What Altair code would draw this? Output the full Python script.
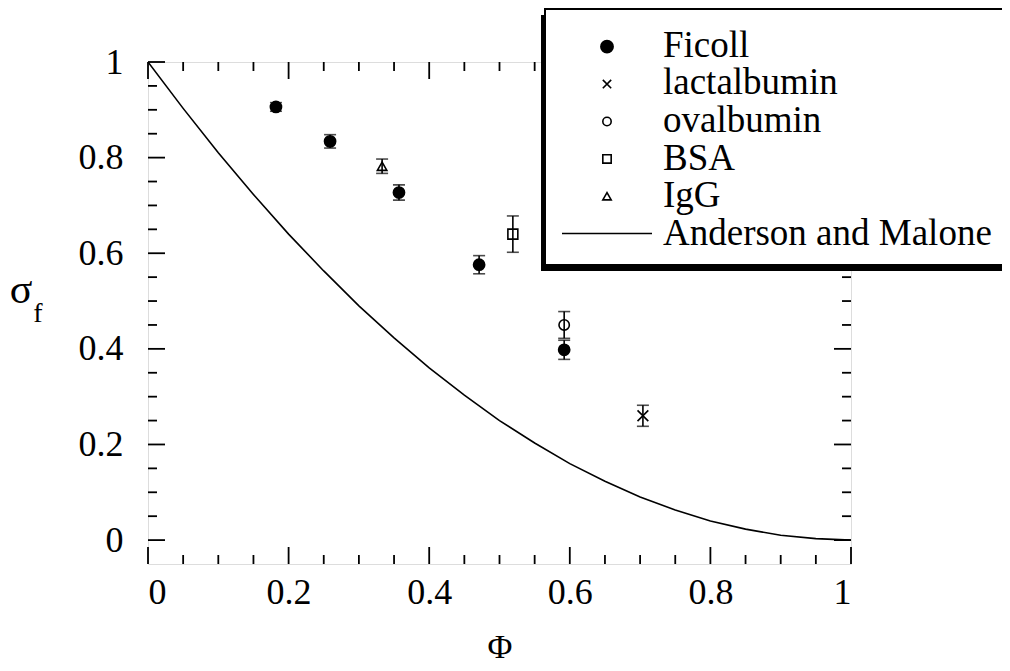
import altair as alt
import pandas as pd

FONT = "Liberation Serif"

# ---------------- data ----------------
ficoll_phi = [0.182, 0.259, 0.357, 0.471, 0.592]
ficoll_sig = [0.906, 0.834, 0.727, 0.576, 0.398]
ficoll_err = [0.009, 0.014, 0.016, 0.019, 0.020]

lact_phi = [0.704]
lact_sig = [0.260]
lact_err = [0.022]

oval_phi = [0.592]
oval_sig = [0.450]
oval_err = [0.028]

bsa_phi = [0.519]
bsa_sig = [0.640]
bsa_err = [0.038]

igg_phi = [0.333]
igg_sig = [0.782]
igg_err = [0.015]

curve_phi = [0.0, 0.05, 0.10, 0.15, 0.20, 0.25, 0.30, 0.35, 0.40, 0.45, 0.50,
             0.55, 0.60, 0.65, 0.70, 0.75, 0.80, 0.85, 0.90, 0.95, 1.0]
curve_sig = [1.0, 0.903, 0.810, 0.723, 0.640, 0.563, 0.490, 0.423, 0.360, 0.303, 0.250,
             0.203, 0.160, 0.123, 0.090, 0.063, 0.040, 0.023, 0.010, 0.003, 0.0]

series_names = ["Ficoll", "lactalbumin", "ovalbumin", "BSA", "IgG"]
legend_labels = ["Ficoll", "lactalbumin", "ovalbumin", "BSA", "IgG", "Anderson and Malone"]

major_ticks = [0.0, 0.2, 0.4, 0.6, 0.8, 1.0]
minor_ticks = [0.05, 0.10, 0.15, 0.25, 0.30, 0.35, 0.45, 0.50, 0.55,
               0.65, 0.70, 0.75, 0.85, 0.90, 0.95]

# ---------------- styling ----------------
W, H = 703, 502
XCROSS = "M-1,-1L1,1M-1,1L1,-1"
shape_range = ["circle", XCROSS, "circle", "square", "triangle-up"]
fill_range = ["black", "transparent", "transparent", "transparent", "transparent"]
size_range = [125, 90, 85, 95, 110]

rows = []
for name, phis, sigs, errs in [
    ("Ficoll", ficoll_phi, ficoll_sig, ficoll_err),
    ("lactalbumin", lact_phi, lact_sig, lact_err),
    ("ovalbumin", oval_phi, oval_sig, oval_err),
    ("BSA", bsa_phi, bsa_sig, bsa_err),
    ("IgG", igg_phi, igg_sig, igg_err),
]:
    for p, s, e in zip(phis, sigs, errs):
        rows.append({"series": name, "phi": p, "sigma": s, "lo": s - e, "hi": s + e})
pts = pd.DataFrame(rows)
curve = pd.DataFrame({"phi": curve_phi, "sigma": curve_sig})

xs = alt.Scale(domain=[0, 1], nice=False, zero=False)
ys = alt.Scale(domain=[-0.05, 1], nice=False, zero=False)

base = alt.Chart(pts)

xaxis = alt.Axis(values=major_ticks, format="~g", ticks=False, domain=False, grid=False,
                 labelFont=FONT, labelFontSize=36, labelColor="black", labelPadding=11,
                 title="Φ", titleFont=FONT, titleFontSize=34, titleFontWeight="normal",
                 titleColor="black", titlePadding=20)
yaxis = alt.Axis(values=major_ticks, format="~g", ticks=False, domain=False, grid=False,
                 labelFont=FONT, labelFontSize=36, labelColor="black", labelPadding=25,
                 title=None)

line = alt.Chart(curve).mark_line(color="black", strokeWidth=1.6, clip=True).encode(
    x=alt.X("phi:Q", scale=xs, axis=xaxis),
    y=alt.Y("sigma:Q", scale=ys, axis=yaxis),
)

bars = base.mark_rule(color="black", strokeWidth=1.6).encode(
    x=alt.X("phi:Q", scale=xs), y=alt.Y("lo:Q", scale=ys), y2="hi:Q")
cap_lo = base.mark_tick(color="black", orient="horizontal", size=12, thickness=1.6).encode(
    x=alt.X("phi:Q", scale=xs), y=alt.Y("lo:Q", scale=ys))
cap_hi = base.mark_tick(color="black", orient="horizontal", size=12, thickness=1.6).encode(
    x=alt.X("phi:Q", scale=xs), y=alt.Y("hi:Q", scale=ys))

points = base.mark_point(stroke="black", strokeWidth=1.6, opacity=1).encode(
    x=alt.X("phi:Q", scale=xs),
    y=alt.Y("sigma:Q", scale=ys),
    shape=alt.Shape("series:N", scale=alt.Scale(domain=series_names, range=shape_range), legend=None),
    fill=alt.Fill("series:N", scale=alt.Scale(domain=series_names, range=fill_range), legend=None),
    size=alt.Size("series:N", scale=alt.Scale(domain=series_names, range=size_range), legend=None),
)

# inward ticks on all four sides
tmaj = pd.DataFrame({"v": major_ticks})
tmin = pd.DataFrame({"v": minor_ticks})
tick_layers = []
for df, L in [(tmaj, 17), (tmin, 9)]:
    c = alt.Chart(df)
    tick_layers += [
        c.mark_rule(color="black", strokeWidth=1.8).encode(
            x=alt.X("v:Q", scale=xs), y=alt.value(H), y2=alt.value(H - L)),
        c.mark_rule(color="black", strokeWidth=1.8).encode(
            x=alt.X("v:Q", scale=xs), y=alt.value(0), y2=alt.value(L)),
        c.mark_rule(color="black", strokeWidth=1.8).encode(
            y=alt.Y("v:Q", scale=ys), x=alt.value(0), x2=alt.value(L)),
        c.mark_rule(color="black", strokeWidth=1.8).encode(
            y=alt.Y("v:Q", scale=ys), x=alt.value(W), x2=alt.value(W - L)),
    ]

# y title sigma_f
sig_title = alt.Chart(pd.DataFrame({"t": ["σ"]})).mark_text(
    font=FONT, fontSize=42, align="center", baseline="alphabetic", color="black").encode(
    text="t:N", x=alt.value(-127), y=alt.value(241))
sub_title = alt.Chart(pd.DataFrame({"t": ["f"]})).mark_text(
    font=FONT, fontSize=28, align="center", baseline="alphabetic", color="black").encode(
    text="t:N", x=alt.value(-110), y=alt.value(260))

# legend box with drop shadow (runs off the right edge as in the original)
shadow = alt.Chart(pd.DataFrame({"a": [0]})).mark_rect(color="black").encode(
    x=alt.value(393), x2=alt.value(870), y=alt.value(-47), y2=alt.value(209))
box = alt.Chart(pd.DataFrame({"a": [0]})).mark_rect(
    fill="white", stroke="black", strokeWidth=2).encode(
    x=alt.value(397), x2=alt.value(875), y=alt.value(-53), y2=alt.value(203))

leg = pd.DataFrame({
    "label": legend_labels,
    "row": list(range(len(legend_labels))),
})
leg["ty"] = -5.3 + leg["row"] * 37.6
leg_sym = pd.DataFrame({
    "row": list(range(5)),
    "shape": shape_range,
    "fill": fill_range,
    "size": [150, 70, 70, 70, 70],
})
leg_sym["sy"] = -15.3 + leg_sym["row"] * 37.4

leg_text = alt.Chart(leg).mark_text(
    font=FONT, fontSize=37, align="left", baseline="alphabetic", color="black").encode(
    text="label:N", x=alt.value(515), y=alt.Y("ty:Q", scale=None))
leg_points = alt.Chart(leg_sym).mark_point(stroke="black", strokeWidth=1.6, opacity=1).encode(
    x=alt.value(459), y=alt.Y("sy:Q", scale=None),
    shape=alt.Shape("shape:N", scale=None),
    fill=alt.Fill("fill:N", scale=None),
    size=alt.Size("size:Q", scale=None),
)
leg_line = alt.Chart(pd.DataFrame({"a": [0]})).mark_rule(color="black", strokeWidth=1.6).encode(
    x=alt.value(414), x2=alt.value(504), y=alt.value(171.5))

chart = alt.layer(
    line, bars, cap_lo, cap_hi, points, *tick_layers,
    sig_title, sub_title, shadow, box, leg_text, leg_points, leg_line,
).properties(
    width=W, height=H,
    autosize=alt.AutoSizeParams(type="none"),
    padding={"left": 140, "top": 54, "right": 151, "bottom": 101},
).configure_view(stroke="black", strokeWidth=2).configure(background="white")

chart.save("out.html", embed_options={"renderer": "svg", "actions": False})
